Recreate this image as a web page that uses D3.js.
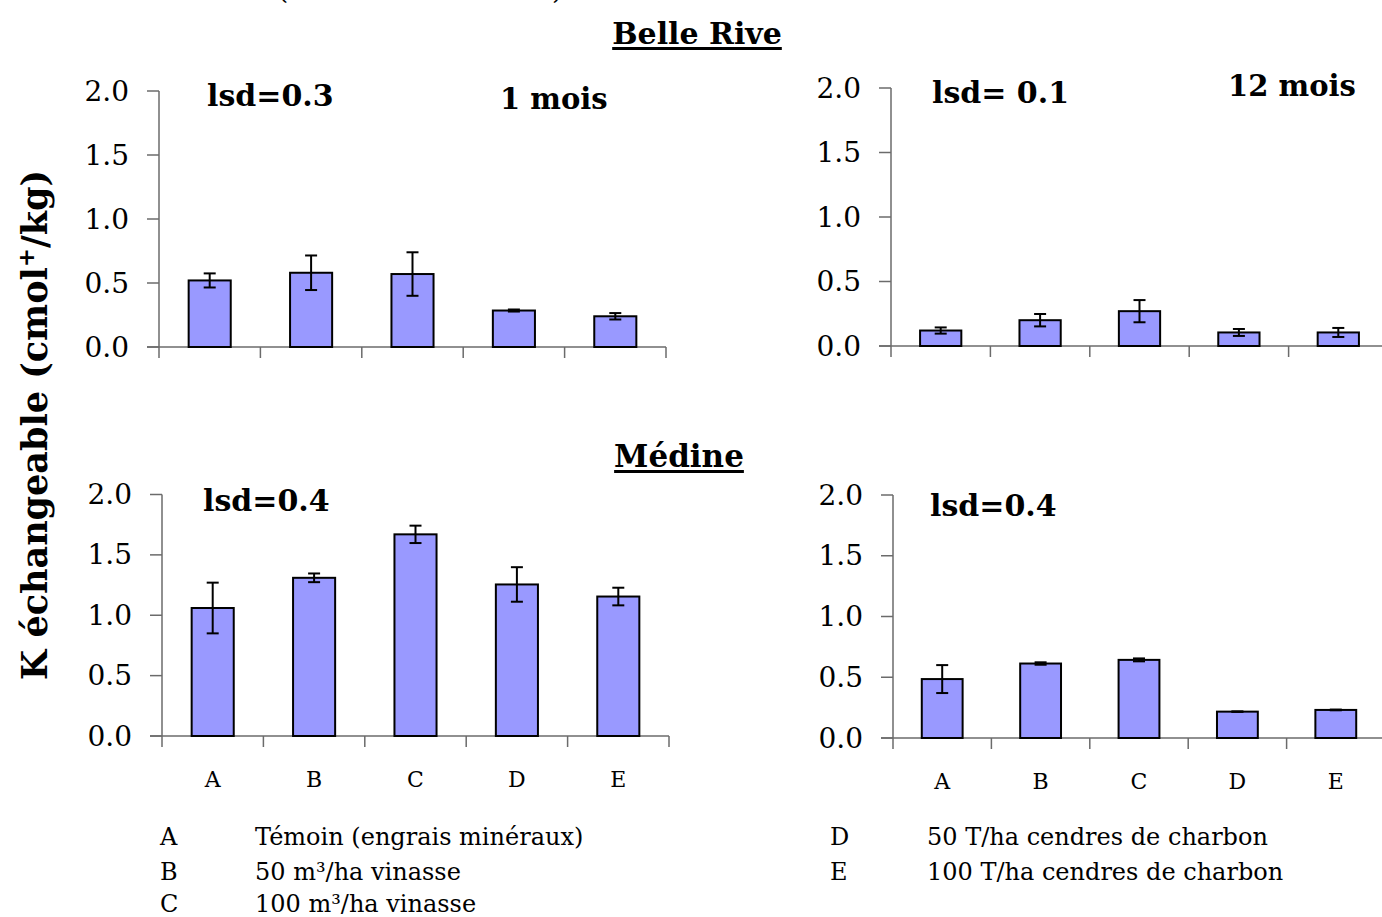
<!DOCTYPE html>
<html>
<head>
<meta charset="utf-8">
<script src="https://cdn.jsdelivr.net/npm/d3@7"></script>
<style>
  html, body { margin: 0; padding: 0; background: #fff; }
  svg { display: block; }
  text { font-family: "DejaVu Serif", "Liberation Serif", serif; fill: #000; }
</style>
</head>
<body>
<svg id="chart" width="1382" height="917"></svg>
<script>
// ---------- data ----------
const categories = ["A", "B", "C", "D", "E"];
const yTickValues = [0, 0.5, 1.0, 1.5, 2.0];

const belleRive1Mois = [0.52, 0.58, 0.57, 0.285, 0.24];
const belleRive1MoisErr = [0.055, 0.135, 0.17, 0.008, 0.025];
const belleRive12Mois = [0.12, 0.20, 0.27, 0.105, 0.105];
const belleRive12MoisErr = [0.024, 0.048, 0.086, 0.027, 0.035];
const medine1Mois = [1.06, 1.31, 1.67, 1.255, 1.155];
const medine1MoisErr = [0.21, 0.036, 0.072, 0.143, 0.073];
const medine12Mois = [0.485, 0.613, 0.643, 0.217, 0.231];
const medine12MoisErr = [0.115, 0.01, 0.012, 0.002, 0.003];

const lsdLabels = ["lsd=0.3", "lsd= 0.1", "lsd=0.4", "lsd=0.4"];
const periodLabels = ["1 mois", "12 mois"];
const siteTitles = ["Belle Rive", "Médine"];
const yAxisTitle = "K échangeable  (cmol";
const legendCodes = ["A", "B", "C", "D", "E"];
const legendTexts = ["Témoin (engrais minéraux)", "50 m³/ha vinasse", "100 m³/ha vinasse",
                     "50 T/ha cendres de charbon", "100 T/ha cendres de charbon"];

// ---------- layout ----------
const panels = [
  { values: belleRive1Mois, err: belleRive1MoisErr, x0: 159, x1: 666, y0: 347, y2: 91,
    lsd: lsdLabels[0], lsdX: 207, lsdY: 106, xLabels: false },
  { values: belleRive12Mois, err: belleRive12MoisErr, x0: 891, x1: 1388, y0: 346, y2: 88,
    lsd: lsdLabels[1], lsdX: 932, lsdY: 103, xLabels: false },
  { values: medine1Mois, err: medine1MoisErr, x0: 162, x1: 669, y0: 736, y2: 494.5,
    lsd: lsdLabels[2], lsdX: 203, lsdY: 511, xLabels: true, labY: 787 },
  { values: medine12Mois, err: medine12MoisErr, x0: 893, x1: 1385, y0: 738, y2: 495,
    lsd: lsdLabels[3], lsdX: 930, lsdY: 516, xLabels: true, labY: 789 }
];

const svg = d3.select("#chart");
const axisColor = "#6b6b6b";
const barFill = "#9999ff";

panels.forEach(p => {
  const g = svg.append("g");
  const x = d3.scaleBand().domain(categories).range([p.x0, p.x1])
    .paddingInner(0.585).paddingOuter(0.2925);
  const y = d3.scaleLinear().domain([0, 2]).range([p.y0, p.y2]);
  const step = x.step();

  // y axis line and ticks
  g.append("line").attr("x1", p.x0).attr("x2", p.x0)
    .attr("y1", y(2)).attr("y2", p.y0 + 11)
    .attr("stroke", axisColor).attr("stroke-width", 1.5);
  yTickValues.forEach(v => {
    g.append("line").attr("x1", p.x0 - 12).attr("x2", p.x0)
      .attr("y1", y(v)).attr("y2", y(v))
      .attr("stroke", axisColor).attr("stroke-width", 1.5);
    g.append("text").attr("x", p.x0 - 30).attr("y", y(v))
      .attr("text-anchor", "end").attr("dominant-baseline", "central")
      .attr("font-size", 28).text(d3.format(".1f")(v));
  });

  // x axis line and ticks at band boundaries
  g.append("line").attr("x1", p.x0 - 12).attr("x2", p.x1)
    .attr("y1", p.y0).attr("y2", p.y0)
    .attr("stroke", axisColor).attr("stroke-width", 1.5);
  categories.forEach(c => {
    const bx = x(c) - x.paddingOuter() * step + step; // right boundary of band
    g.append("line").attr("x1", bx).attr("x2", bx)
      .attr("y1", p.y0).attr("y2", p.y0 + 11)
      .attr("stroke", axisColor).attr("stroke-width", 1.5);
  });

  // bars
  g.selectAll("rect.bar").data(p.values).join("rect")
    .attr("class", "bar")
    .attr("x", (d, i) => x(categories[i]))
    .attr("y", d => y(d))
    .attr("width", x.bandwidth())
    .attr("height", d => p.y0 - y(d))
    .attr("fill", barFill).attr("stroke", "#000").attr("stroke-width", 2);

  // error bars
  p.values.forEach((v, i) => {
    const cx = x(categories[i]) + x.bandwidth() / 2;
    const e = p.err[i];
    const eg = g.append("g").attr("stroke", "#000").attr("stroke-width", 2);
    eg.append("line").attr("x1", cx).attr("x2", cx).attr("y1", y(v + e)).attr("y2", y(v - e));
    eg.append("line").attr("x1", cx - 6).attr("x2", cx + 6).attr("y1", y(v + e)).attr("y2", y(v + e));
    eg.append("line").attr("x1", cx - 6).attr("x2", cx + 6).attr("y1", y(v - e)).attr("y2", y(v - e));
  });

  // category labels
  if (p.xLabels) {
    categories.forEach(c => {
      g.append("text").attr("x", x(c) + x.bandwidth() / 2).attr("y", p.labY)
        .attr("text-anchor", "middle").attr("font-size", 22).text(c);
    });
  }

  // lsd label
  g.append("text").attr("x", p.lsdX).attr("y", p.lsdY)
    .attr("font-size", 30).attr("font-weight", "bold").text(p.lsd);
});

// period labels
svg.append("text").attr("x", 500).attr("y", 109).attr("font-size", 29)
  .attr("font-weight", "bold").text(periodLabels[0]);
svg.append("text").attr("x", 1228).attr("y", 96).attr("font-size", 29)
  .attr("font-weight", "bold").text(periodLabels[1]);

// site titles (underlined)
function underlinedTitle(txt, cx, baseline, size) {
  const t = svg.append("text").attr("x", cx).attr("y", baseline)
    .attr("text-anchor", "middle").attr("font-size", size).attr("font-weight", "bold").text(txt);
  const w = t.node().getComputedTextLength();
  svg.append("rect").attr("x", cx - w / 2).attr("y", baseline + 3)
    .attr("width", w).attr("height", 3).attr("fill", "#000");
}
underlinedTitle(siteTitles[0], 697, 44, 30);
underlinedTitle(siteTitles[1], 679, 467, 31);

// text clipped at the very top (as in the source image)
svg.append("text").attr("x", 278).attr("y", -1).attr("font-size", 26).text("(");
svg.append("text").attr("x", 552).attr("y", -1).attr("font-size", 26).text(")");

// y axis title
const yt = svg.append("text")
  .attr("transform", "translate(47,425) rotate(-90)")
  .attr("text-anchor", "middle").attr("font-size", 35).attr("font-weight", "bold");
yt.append("tspan").text(yAxisTitle);
yt.append("tspan").attr("dy", -13).attr("font-size", 23).text("+");
yt.append("tspan").attr("dy", 13).text("/kg)");

// legend
const legendRows = [
  { x: 160, tx: 255, y: 845 }, { x: 160, tx: 255, y: 880 }, { x: 160, tx: 255, y: 912 },
  { x: 830, tx: 927, y: 845 }, { x: 830, tx: 927, y: 880 }
];
legendCodes.forEach((c, i) => {
  const r = legendRows[i];
  svg.append("text").attr("x", r.x).attr("y", r.y).attr("font-size", 24).text(c);
  svg.append("text").attr("x", r.tx).attr("y", r.y).attr("font-size", 24).text(legendTexts[i]);
});
</script>
</body>
</html>
